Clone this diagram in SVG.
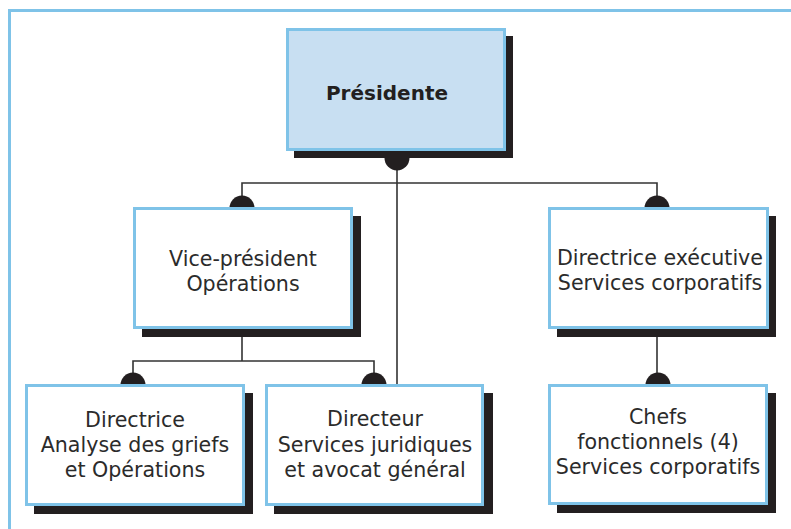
<svg xmlns="http://www.w3.org/2000/svg" width="791" height="529" viewBox="0 0 791 529">
<style>
.frame{fill:none;stroke:#7fc3e8;stroke-width:3}
.box{fill:#ffffff;stroke:#7fc3e8;stroke-width:3}
.top{fill:#c8dff2;stroke:#7fc3e8;stroke-width:3}
.shadow{fill:#231f20}
.ln{fill:none;stroke:#333333;stroke-width:1.6}
.dot{fill:#231f20}
text{font-family:"DejaVu Sans","Liberation Sans",sans-serif;font-size:20.6px;fill:#2b2b2b;text-anchor:middle}
.b{font-weight:bold;fill:#231f20;font-size:20px}
</style>
<rect width="791" height="529" fill="#ffffff"/>
<path class="frame" d="M9.5,529 V10.5 H791"/>
<g id="connectors">
<path class="ln" d="M397,158 V385"/>
<path class="ln" d="M242,208 V183 H657 V208"/>
<path class="ln" d="M242,337 V361"/>
<path class="ln" d="M133,385 V361 H374 V385"/>
<path class="ln" d="M657,337 V385"/>
<path class="dot" d="M384.5,158 A12.5,12.5 0 0 0 409.5,158 Z"/>
<path class="dot" d="M229.5,208 A12.5,12.5 0 0 1 254.5,208 Z"/>
<path class="dot" d="M644.5,208 A12.5,12.5 0 0 1 669.5,208 Z"/>
<path class="dot" d="M120.5,385 A12.5,12.5 0 0 1 145.5,385 Z"/>
<path class="dot" d="M361.5,385 A12.5,12.5 0 0 1 386.5,385 Z"/>
<path class="dot" d="M645.5,385 A12.5,12.5 0 0 1 670.5,385 Z"/>
</g>
<g id="presidente">
<rect class="shadow" x="294" y="36" width="219" height="122"/>
<rect class="top" x="287.5" y="29.5" width="217" height="120"/>
<text class="b" x="387" y="100">Présidente</text>
</g>
<g id="vice-president">
<rect class="shadow" x="142" y="216" width="219" height="121"/>
<rect class="box" x="134.5" y="208.5" width="217" height="119"/>
<text x="243" y="266">Vice-président</text>
<text x="243" y="291">Opérations</text>
</g>
<g id="directrice-executive">
<rect class="shadow" x="557" y="216" width="219" height="121"/>
<rect class="box" x="549.5" y="208.5" width="218" height="119"/>
<text x="660" y="265">Directrice exécutive</text>
<text x="660" y="290">Services corporatifs</text>
</g>
<g id="directrice-analyse">
<rect class="shadow" x="34" y="393" width="219" height="121"/>
<rect class="box" x="26.5" y="385.5" width="217" height="119"/>
<text x="135" y="427">Directrice</text>
<text x="135" y="452">Analyse des griefs</text>
<text x="135" y="477">et Opérations</text>
</g>
<g id="directeur">
<rect class="shadow" x="274" y="393" width="219" height="121"/>
<rect class="box" x="266.5" y="385.5" width="216" height="119"/>
<text x="375" y="426">Directeur</text>
<text x="375" y="452">Services juridiques</text>
<text x="375" y="477">et avocat général</text>
</g>
<g id="chefs">
<rect class="shadow" x="557" y="393" width="219" height="120"/>
<rect class="box" x="549.5" y="385.5" width="217" height="118"/>
<text x="658" y="424">Chefs</text>
<text x="658" y="449">fonctionnels (4)</text>
<text x="658" y="474">Services corporatifs</text>
</g>
</svg>
